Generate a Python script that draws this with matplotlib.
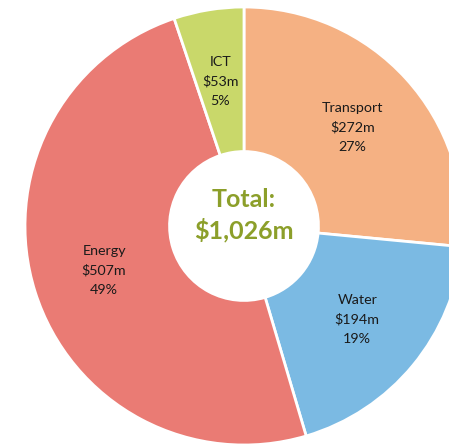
import matplotlib
matplotlib.use('Agg')
import matplotlib.pyplot as plt

# 数据
categories = ['Transport', 'Water', 'Energy', 'ICT']
values = [272, 194, 507, 53]
colors = ['#F5B183', '#7BBAE3', '#EA7B74', '#C9D86A']
total_label = 'Total:\n\\$1,026m'

total = sum(values)
labels = [f'{c}\n\\${v}m\n{round(v / total * 100)}%' for c, v in zip(categories, values)]

plt.rcParams['font.family'] = ['Lato', 'DejaVu Sans']

fig = plt.figure(figsize=(4.49, 4.47), dpi=100)
ax = fig.add_axes([0, 0, 1, 1])

cx, cy, r = 244, 447 - 226, 219
wedges, texts = ax.pie(values, labels=labels, colors=colors, startangle=90,
                       counterclock=False, radius=r, center=(cx, cy),
                       labeldistance=0.67,
                       wedgeprops=dict(width=r * 0.66, edgecolor='white', linewidth=2),
                       textprops=dict(fontsize=10.3, color='#1a1a1a', ha='center',
                                      va='center', linespacing=1.7))

ax.text(cx, cy + 11, total_label, ha='center', va='center', fontsize=18,
        fontweight='bold', color='#8C9F2A', linespacing=1.35)

ax.set_xlim(0, 449)
ax.set_ylim(0, 447)
ax.set_aspect('equal')
ax.axis('off')

fig.savefig('out.png', dpi=100)
